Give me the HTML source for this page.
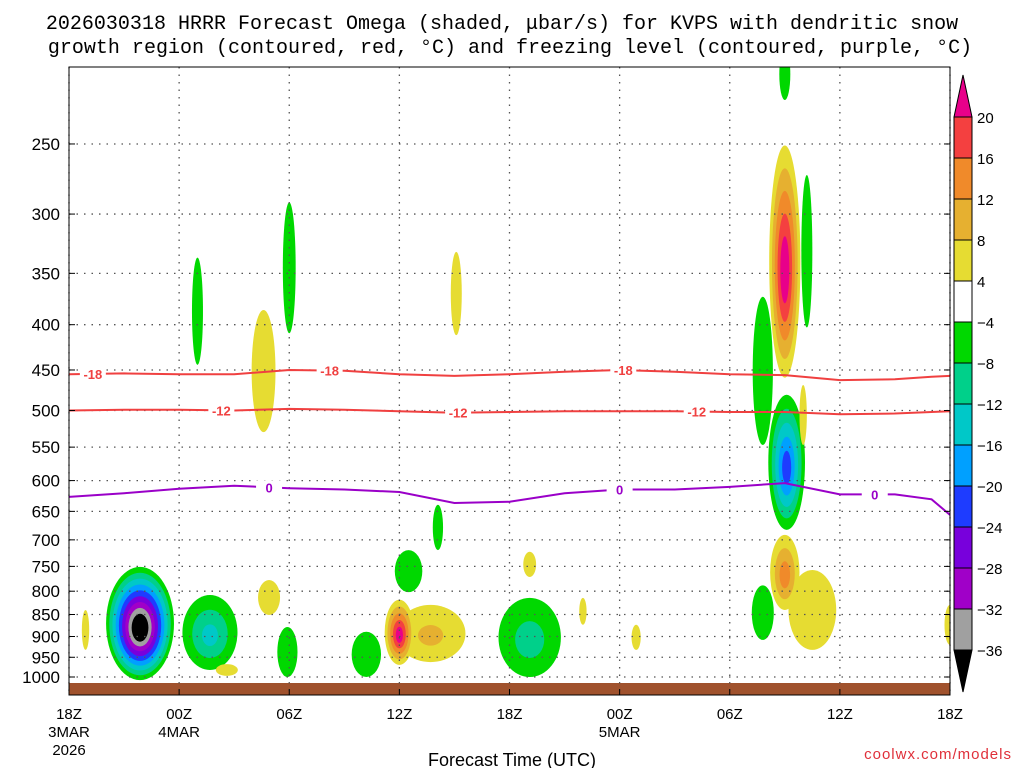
<!DOCTYPE html>
<html><head><meta charset="utf-8"><style>
body{margin:0;background:#fff;}
svg{display:block;font-family:"Liberation Sans",sans-serif;}
</style></head><body>
<svg id="chart" width="1024" height="768" viewBox="0 0 1024 768" xmlns="http://www.w3.org/2000/svg">
<text x="502" y="29" text-anchor="middle" font-size="20" font-family="Liberation Mono, monospace" fill="#000">2026030318 HRRR Forecast Omega (shaded, μbar/s) for KVPS with dendritic snow</text>
<text x="510" y="53" text-anchor="middle" font-size="20" font-family="Liberation Mono, monospace" fill="#000">growth region (contoured, red, °C) and freezing level (contoured, purple, °C)</text>
<defs><clipPath id="pc"><rect x="69" y="67" width="881" height="628"/></clipPath></defs>
<g id="blobs" clip-path="url(#pc)"></g>
<rect x="69" y="683" width="881" height="12" fill="#a0522d"/>
<g id="grid"></g>
<g id="contours" clip-path="url(#pc)"></g>
<rect x="69" y="67" width="881" height="628" fill="none" stroke="#000" stroke-width="1"/>
<g id="axes"></g>
<g id="cbar"></g>
<text x="512" y="766" text-anchor="middle" font-size="18" fill="#000">Forecast Time (UTC)</text>
<text x="1012" y="759" text-anchor="end" font-size="15" fill="#e0303a" letter-spacing="1">coolwx.com/models</text>
</svg>
<script>
const pLevels=[250,300,350,400,450,500,550,600,650,700,750,800,850,900,950,1000];
const xTickHours=[0,6,12,18,24,30,36,42,48];
const xTickLabels=["18Z","00Z","06Z","12Z","18Z","00Z","06Z","12Z","18Z"];
const xTickSub=["3MAR","4MAR","","","","5MAR","","",""];
// blobs: hour, halfwidth hours, top p, bottom p, peak omega
const blobHour=[3.87,7.68,0.9,7.0,12.0,10.6,8.6,10.9,11.9,16.2,18.0,19.7,18.5,20.1,21.1,25.1,25.1,28.0,30.9,39.0,39.0,40.2,37.8,39.1,40.0,39.0,40.5,37.8,48];
const blobHalfW=[1.85,1.5,0.2,0.3,0.35,0.65,0.6,0.6,0.55,0.8,0.8,1.9,0.75,0.28,0.3,1.7,0.35,0.2,0.25,0.3,0.85,0.3,0.55,1.0,0.2,0.8,1.3,0.6,0.3];
const blobTop=[751,808,840,336,291,385,967,777,878,889,818,829,719,639,331,814,722,814,873,195,251,271,372,480,468,691,757,788,829];
const blobBot=[1008,982,932,444,409,529,997,851,1000,1000,969,962,802,719,411,1000,771,873,932,223,459,403,547,682,547,840,932,908,920];
const blobPeak=[-38,-13,5,-5,-5,6,5,5,-5,-5,21,9,-5,-5,5,-10,5,5,5,-5,22,-5,-5,-21,5,14,6,-5,5];
// contours
const contourHours=[0,3,6,9,12,15,18,21,24,27,30,33,36,39,42,45,47,48];
const freezeP=[626,620,613,608,612,614,618,636,634,620,614,614,610,604,622,622,630,656];
const dgz18P=[455,454,455,455,450,451,455,457,455,452,450,452,455,456,462,461,458,457];
const dgz12P=[500,499,499,500,498,499,501,503,502,501,501,501,502,502,505,504,502,501];
const cbLevels=[20,16,12,8,4,-4,-8,-12,-16,-20,-24,-28,-32,-36];
const posColors=["#e6dc32","#e6b030","#f08a2a","#f44040","#e8008a"];
const negColors=["#00d800","#00d08a","#00c8c8","#00a0ff","#1e3cff","#7800dc","#a000c8","#a0a0a0","#000000"];

const NS="http://www.w3.org/2000/svg";
const x0=69,pxh=881/48;
function X(h){return x0+h*pxh;}
function Y(p){return 677+384.5*Math.log(p/1000);}
function mk(tag,attrs,parent){const e=document.createElementNS(NS,tag);for(const k in attrs)e.setAttribute(k,attrs[k]);parent.appendChild(e);return e;}

const gB=document.getElementById('blobs');
for(let k=0;k<9;k++){
  for(let i=0;i<blobHour.length;i++){
    const pk=blobPeak[i],a=Math.abs(pk),cols=pk>0?posColors:negColors;
    const t=4+4*k;
    if(t>=a||k>=cols.length)continue;
    const cx=X(blobHour[i]),yt=Y(blobTop[i]),yb=Y(blobBot[i]);
    const cy=(yt+yb)/2,ry=(yb-yt)/2,rx=blobHalfW[i]*pxh;
    const s=1-0.8*(t-4)/(a-4);
    const el=mk('ellipse',{cx:cx,cy:cy+(1-s)*ry*0.1,rx:Math.max(rx*s,1.5),ry:Math.max(ry*s,2),fill:cols[k]},gB);
    
    
  }
}
const gG=document.getElementById('grid');
pLevels.forEach(p=>{const l=mk('line',{x1:69,x2:950,y1:Y(p),y2:Y(p),stroke:'#555','stroke-width':1.3,'stroke-dasharray':'1.5 6'},gG);
});
xTickHours.forEach(h=>{const l=mk('line',{x1:X(h),x2:X(h),y1:67,y2:695,stroke:'#555','stroke-width':1.3,'stroke-dasharray':'1.5 6'},gG);
});

const gC=document.getElementById('contours');
function contour(arr,color,name,label,labelHours){
  const d=contourHours.map((h,i)=>(i?'L':'M')+X(h).toFixed(1)+','+Y(arr[i]).toFixed(1)).join(' ');
  const pth=mk('path',{d:d,fill:'none',stroke:color,'stroke-width':2},gC);
  
  labelHours.forEach(h=>{
    let j=0;while(j<contourHours.length-2&&contourHours[j+1]<h)j++;
    const f=(h-contourHours[j])/(contourHours[j+1]-contourHours[j]);
    const p=arr[j]+f*(arr[j+1]-arr[j]);
    const r=mk('rect',{x:X(h)-13,y:Y(p)-7,width:26,height:14,fill:'#fff'},gC);
    
    const t=mk('text',{x:X(h),y:Y(p)+5,'text-anchor':'middle','font-size':13,'font-weight':'bold',fill:color},gC);
    t.textContent=label;
    
  });
}
contour(dgz18P,'#f04040','contour-minus18','-18',[1.3,14.2,30.2]);
contour(dgz12P,'#f04040','contour-minus12','-12',[8.3,21.2,34.2]);
contour(freezeP,'#9a00c8','freezing-level','0',[10.9,30.0,43.9]);

const gA=document.getElementById('axes');
pLevels.forEach(p=>{
  const t=mk('text',{x:60,y:Y(p)+6,'text-anchor':'end','font-size':17},gA);t.textContent=p;
  
  mk('line',{x1:69,x2:75,y1:Y(p),y2:Y(p),stroke:'#000'},gA);
  mk('line',{x1:944,x2:950,y1:Y(p),y2:Y(p),stroke:'#000'},gA);
});
xTickHours.forEach((h,i)=>{
  const t=mk('text',{x:X(h),y:719,'text-anchor':'middle','font-size':15},gA);t.textContent=xTickLabels[i];
  
  if(xTickSub[i]){const s=mk('text',{x:X(h),y:737,'text-anchor':'middle','font-size':15},gA);s.textContent=xTickSub[i];
  }
  mk('line',{x1:X(h),x2:X(h),y1:689,y2:695,stroke:'#000'},gA);
});
const yr=mk('text',{x:X(0),y:755,'text-anchor':'middle','font-size':15},gA);yr.textContent='2026';


const gCb=document.getElementById('cbar');
const cbx=954,cbw=18,cbTop=117,box=41;
const boxCols=["#f44040","#f08a2a","#e6b030","#e6dc32","#ffffff","#00d800","#00d08a","#00c8c8","#00a0ff","#1e3cff","#7800dc","#a000c8","#a0a0a0"];
const tri1=mk('polygon',{points:`${cbx},${cbTop} ${cbx+cbw},${cbTop} ${cbx+cbw/2},75`,fill:'#e8008a',stroke:'#000'},gCb);

boxCols.forEach((c,i)=>{const r=mk('rect',{x:cbx,y:cbTop+i*box,width:cbw,height:box,fill:c,stroke:'#000'},gCb);
});
const yb=cbTop+boxCols.length*box;
const tri2=mk('polygon',{points:`${cbx},${yb} ${cbx+cbw},${yb} ${cbx+cbw/2},692`,fill:'#000',stroke:'#000'},gCb);

cbLevels.forEach((v,i)=>{const t=mk('text',{x:977,y:cbTop+i*box+6,'font-size':15},gCb);
t.textContent=v<0?'\u2212'+(-v):v;
});
</script>
</body></html>
